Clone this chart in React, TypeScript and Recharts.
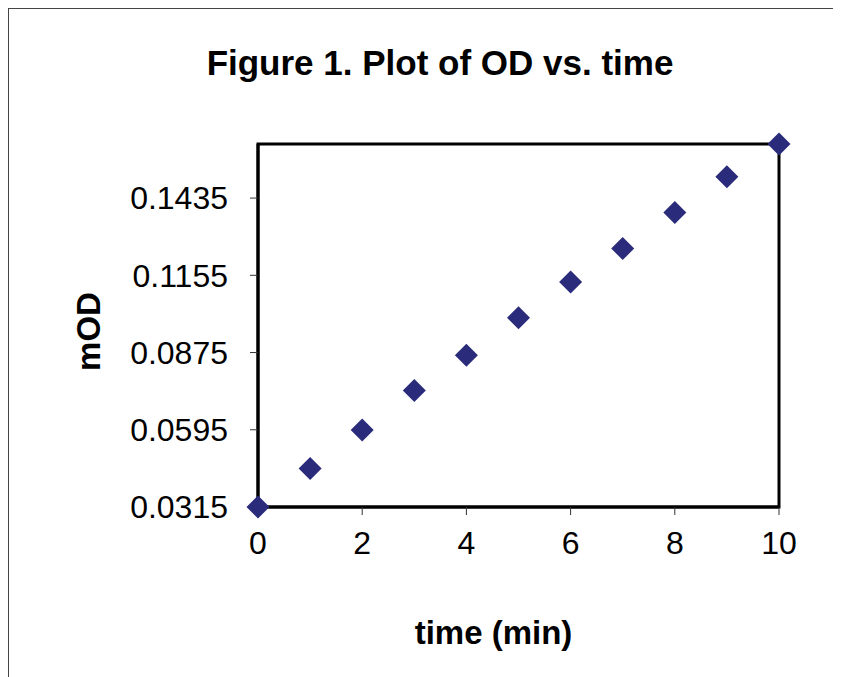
import { ScatterChart, Scatter, XAxis, YAxis, ReferenceArea, Label } from 'recharts';

const times = [0, 1, 2, 3, 4, 5, 6, 7, 8, 9, 10];
const od = [0.0315, 0.0455, 0.0594, 0.0737, 0.0865, 0.1001, 0.1131, 0.1252, 0.1383, 0.1512, 0.1631];
const yTicks = [0.0315, 0.0595, 0.0875, 0.1155, 0.1435];
const xTicks = [0, 2, 4, 6, 8, 10];

const data = times.map((t, i) => ({ t, od: od[i] }));

const FONT = '"Liberation Sans", Arial, sans-serif';

const Diamond = (props: any) => {
  const { cx, cy } = props;
  const r = 11.5;
  return (
    <polygon
      points={`${cx},${cy - r} ${cx + r},${cy} ${cx},${cy + r} ${cx - r},${cy}`}
      fill="#2B2B7C"
    />
  );
};

export default function App() {
  return (
    <div
      style={{
        width: 829,
        height: 680,
        border: '1px solid #444',
        background: '#fff',
        position: 'relative',
        fontFamily: FONT,
      }}
    >
      <div
        style={{
          position: 'absolute',
          top: 34,
          left: 0,
          width: 862,
          textAlign: 'center',
          fontSize: 35,
          fontWeight: 'bold',
          color: '#000',
        }}
      >
        Figure 1. Plot of OD vs. time
      </div>
      <ScatterChart
        width={829}
        height={668}
        margin={{ top: 135, right: 59, left: 109, bottom: 110 }}
        style={{ fontFamily: FONT }}
      >
        <XAxis
          type="number"
          dataKey="t"
          domain={[0, 10]}
          ticks={xTicks}
          height={60}
          tickSize={8}
          tickLine={{ stroke: '#333', strokeWidth: 1 }}
          axisLine={{ stroke: '#000', strokeWidth: 3 }}
          tick={{ fill: '#000', fontSize: 32 }}
          tickMargin={16}
        >
          <Label
            value="time (min)"
            position="insideBottom"
            offset={-77}
            dx={-25}
            style={{ fontSize: 33, fontWeight: 'bold', fill: '#000' }}
          />
        </XAxis>
        <YAxis
          type="number"
          dataKey="od"
          domain={[0.0315, 0.1631]}
          ticks={yTicks}
          width={140}
          tickSize={8}
          tickLine={{ stroke: '#333', strokeWidth: 1 }}
          axisLine={{ stroke: '#000', strokeWidth: 3 }}
          tick={{ fill: '#000', fontSize: 32 }}
          tickFormatter={(v: number) => v.toFixed(4)}
          tickMargin={22}
        >
          <Label
            value="mOD"
            angle={-90}
            position="insideLeft"
            offset={-30}
            dy={6}
            style={{ fontSize: 33, fontWeight: 'bold', fill: '#000', textAnchor: 'middle' }}
          />
        </YAxis>
        <ReferenceArea
          x1={0}
          x2={10}
          y1={0.0315}
          y2={0.1631}
          fill="none"
          stroke="#000"
          strokeWidth={3}
        />
        <Scatter data={data} shape={Diamond} isAnimationActive={false} />
      </ScatterChart>
    </div>
  );
}
